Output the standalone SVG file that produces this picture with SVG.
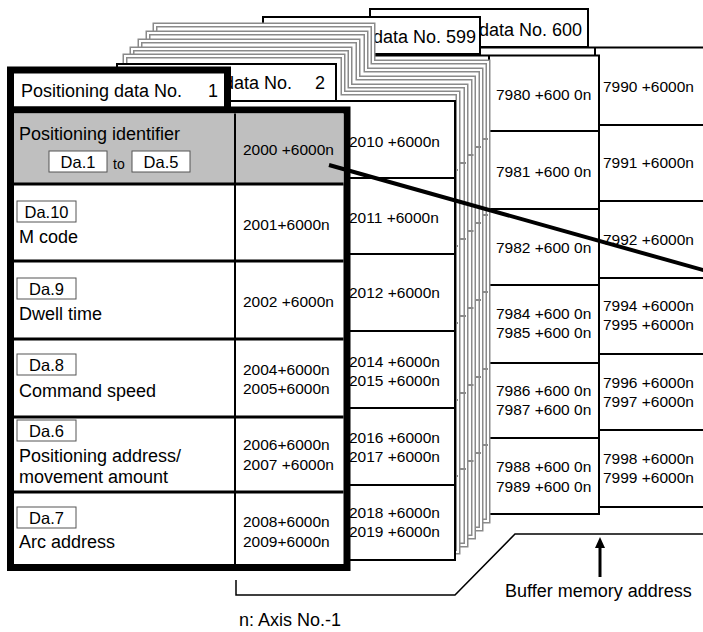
<svg xmlns="http://www.w3.org/2000/svg" width="703" height="632" viewBox="0 0 703 632">
<style>
text{font-family:"Liberation Sans",Arial,sans-serif;fill:#000}
.lbl{font-size:18px}
.adr{font-size:15.5px}
.da{font-size:16.5px;text-anchor:middle}
.to{font-size:14px}
.sheet{fill:#fff;stroke:#000;stroke-width:2}
.gs{fill:#fff;stroke:#8a8a8a;stroke-width:5}
.gsi{fill:none;stroke:#fff;stroke-width:2}
.grow{stroke:#8a8a8a;stroke-width:2}
.row{stroke:#000;stroke-width:2}
.row1{stroke:#000;stroke-width:3}
.dabox{fill:#fff;stroke:#555;stroke-width:1}
.conn{fill:none;stroke:#000}
</style>

<!-- Sheet No. 600 (back) -->
<g id="sheet600">
<rect class="sheet" x="370" y="9" width="218" height="38"/>
<rect class="sheet" x="370" y="47.5" width="337" height="459.5"/>
<line class="row" x1="595" y1="47.5" x2="595" y2="507"/>
<line class="row" x1="595" y1="125" x2="707" y2="125"/>
<line class="row" x1="595" y1="201" x2="707" y2="201"/>
<line class="row" x1="595" y1="278" x2="707" y2="278"/>
<line class="row" x1="595" y1="354" x2="707" y2="354"/>
<line class="row" x1="595" y1="430" x2="707" y2="430"/>
<text class="lbl" x="582" y="36" text-anchor="end">data No. 600</text>
<text class="adr" x="603" y="92">7990 +6000n</text>
<text class="adr" x="603" y="168">7991 +6000n</text>
<text class="adr" x="603" y="245">7992 +6000n</text>
<text class="adr" x="603" y="311">7994 +6000n</text>
<text class="adr" x="603" y="330">7995 +6000n</text>
<text class="adr" x="603" y="388">7996 +6000n</text>
<text class="adr" x="603" y="407">7997 +6000n</text>
<text class="adr" x="603" y="464">7998 +6000n</text>
<text class="adr" x="603" y="483">7999 +6000n</text>
</g>

<!-- Sheet No. 599 -->
<g id="sheet599">
<rect class="sheet" x="263" y="17" width="217" height="37"/>
<rect class="sheet" x="263" y="55.5" width="336" height="458.5"/>
<line class="row" x1="489" y1="55.5" x2="489" y2="514"/>
<line class="row" x1="489" y1="131" x2="599" y2="131"/>
<line class="row" x1="489" y1="209" x2="599" y2="209"/>
<line class="row" x1="489" y1="285" x2="599" y2="285"/>
<line class="row" x1="489" y1="363" x2="599" y2="363"/>
<line class="row" x1="489" y1="438" x2="599" y2="438"/>
<text class="lbl" x="476" y="43" text-anchor="end">data No. 599</text>
<text class="adr" x="496" y="100">7980 +600 0n</text>
<text class="adr" x="496" y="177">7981 +600 0n</text>
<text class="adr" x="496" y="253">7982 +600 0n</text>
<text class="adr" x="496" y="319">7984 +600 0n</text>
<text class="adr" x="496" y="338">7985 +600 0n</text>
<text class="adr" x="496" y="396">7986 +600 0n</text>
<text class="adr" x="496" y="415">7987 +600 0n</text>
<text class="adr" x="496" y="472">7988 +600 0n</text>
<text class="adr" x="496" y="492">7989 +600 0n</text>
</g>

<!-- Intermediate sheets (gray) -->
<g id="sheet-e">
<path class="gs" d="M155,25H373V62H488V521H155Z"/>
<path class="gsi" d="M155,25H373V62H488V521H155Z"/>
<path class="grow" d="M380,139H488M380,215H488M380,292H488M380,369H488M380,445H488"/>
</g>
<g id="sheet-d">
<path class="gs" d="M148,33H366V70H481V529H148Z"/>
<path class="gsi" d="M148,33H366V70H481V529H148Z"/>
<path class="grow" d="M373,147H481M373,223H481M373,300H481M373,377H481M373,453H481"/>
</g>
<g id="sheet-c">
<path class="gs" d="M140,41H358V78H473.5V537H140Z"/>
<path class="gsi" d="M140,41H358V78H473.5V537H140Z"/>
<path class="grow" d="M365,155H473.5M365,231H473.5M365,308H473.5M365,385H473.5M365,461H473.5"/>
</g>
<g id="sheet-b">
<path class="gs" d="M132,49H350V86H466V545H132Z"/>
<path class="gsi" d="M132,49H350V86H466V545H132Z"/>
<path class="grow" d="M357,163H466M357,239H466M357,316H466M357,393H466M357,469H466"/>
</g>
<g id="sheet-a">
<path class="gs" d="M125,56H343V93H458V552H125Z"/>
<path class="gsi" d="M125,56H343V93H458V552H125Z"/>
<path class="grow" d="M350,170H458M350,246H458M350,323H458M350,400H458M350,476H458"/>
</g>

<!-- Sheet No. 2 -->
<g id="sheet2">
<rect class="sheet" x="117" y="64" width="219" height="37" stroke-width="2.5"/>
<rect class="sheet" x="117" y="101" width="338" height="459" stroke-width="2.5"/>
<line class="row" x1="343" y1="178" x2="455" y2="178"/>
<line class="row" x1="343" y1="254" x2="455" y2="254"/>
<line class="row" x1="343" y1="331" x2="455" y2="331"/>
<line class="row" x1="343" y1="408" x2="455" y2="408"/>
<line class="row" x1="343" y1="485" x2="455" y2="485"/>
<text class="lbl" x="224" y="89">data No.</text>
<text class="lbl" x="315" y="89">2</text>
<text class="adr" x="349" y="147">2010 +6000n</text>
<text class="adr" x="349" y="223">2011 +6000n</text>
<text class="adr" x="349" y="298">2012 +6000n</text>
<text class="adr" x="349" y="367">2014 +6000n</text>
<text class="adr" x="349" y="386">2015 +6000n</text>
<text class="adr" x="349" y="443">2016 +6000n</text>
<text class="adr" x="349" y="462">2017 +6000n</text>
<text class="adr" x="349" y="518">2018 +6000n</text>
<text class="adr" x="349" y="537">2019 +6000n</text>
</g>

<!-- Sheet No. 1 (front) -->
<g id="sheet1">
<rect x="10.5" y="70" width="217" height="40" fill="#fff" stroke="#000" stroke-width="7"/>
<rect x="10.5" y="110" width="336.5" height="457.5" fill="#fff" stroke="#000" stroke-width="7"/>
<rect x="14" y="113.5" width="329.5" height="70.5" fill="#bfbfbf"/>
<line class="row1" x1="14" y1="184" x2="343.5" y2="184"/>
<line class="row1" x1="14" y1="261" x2="343.5" y2="261"/>
<line class="row1" x1="14" y1="339" x2="343.5" y2="339"/>
<line class="row1" x1="14" y1="417" x2="343.5" y2="417"/>
<line class="row1" x1="14" y1="492" x2="343.5" y2="492"/>
<line class="row" x1="235" y1="113.5" x2="235" y2="564"/>
<text class="lbl" x="21" y="97">Positioning data No.</text>
<text class="lbl" x="208" y="97">1</text>

<text class="lbl" x="19" y="140">Positioning identifier</text>
<rect class="dabox" x="49" y="151" width="58" height="21"/>
<text class="da" x="78" y="168">Da.1</text>
<text class="to" x="113" y="169">to</text>
<rect class="dabox" x="132" y="151" width="58" height="21"/>
<text class="da" x="161" y="168">Da.5</text>

<rect class="dabox" x="17" y="201" width="59" height="21"/>
<text class="da" x="46.5" y="218">Da.10</text>
<text class="lbl" x="19" y="243">M code</text>

<rect class="dabox" x="17" y="278" width="59" height="21"/>
<text class="da" x="46.5" y="295">Da.9</text>
<text class="lbl" x="19" y="320">Dwell time</text>

<rect class="dabox" x="17" y="354" width="59" height="21"/>
<text class="da" x="46.5" y="371">Da.8</text>
<text class="lbl" x="19" y="397">Command speed</text>

<rect class="dabox" x="17" y="420" width="59" height="21"/>
<text class="da" x="46.5" y="437">Da.6</text>
<text class="lbl" x="19" y="462">Positioning address/</text>
<text class="lbl" x="19" y="483">movement amount</text>

<rect class="dabox" x="17" y="507" width="59" height="21"/>
<text class="da" x="46.5" y="524">Da.7</text>
<text class="lbl" x="19" y="548">Arc address</text>

<text class="adr" x="243" y="155">2000 +6000n</text>
<text class="adr" x="243" y="230">2001+6000n</text>
<text class="adr" x="243" y="307">2002 +6000n</text>
<text class="adr" x="243" y="375">2004+6000n</text>
<text class="adr" x="243" y="394">2005+6000n</text>
<text class="adr" x="243" y="450">2006+6000n</text>
<text class="adr" x="243" y="470">2007 +6000n</text>
<text class="adr" x="243" y="527">2008+6000n</text>
<text class="adr" x="243" y="547">2009+6000n</text>
</g>

<!-- Connectors -->
<g id="connectors">
<line class="conn" x1="329" y1="165" x2="710" y2="272" stroke-width="4"/>
<path class="conn" d="M236,580V595H455L515,534H703" stroke-width="1.5"/>
<line class="conn" x1="600" y1="577" x2="600" y2="546" stroke-width="3"/>
<polygon points="595,548 605,548 600,537" fill="#000"/>
</g>

<text class="lbl" x="505" y="597">Buffer memory address</text>
<text class="lbl" x="239" y="626">n: Axis No.-1</text>
</svg>
